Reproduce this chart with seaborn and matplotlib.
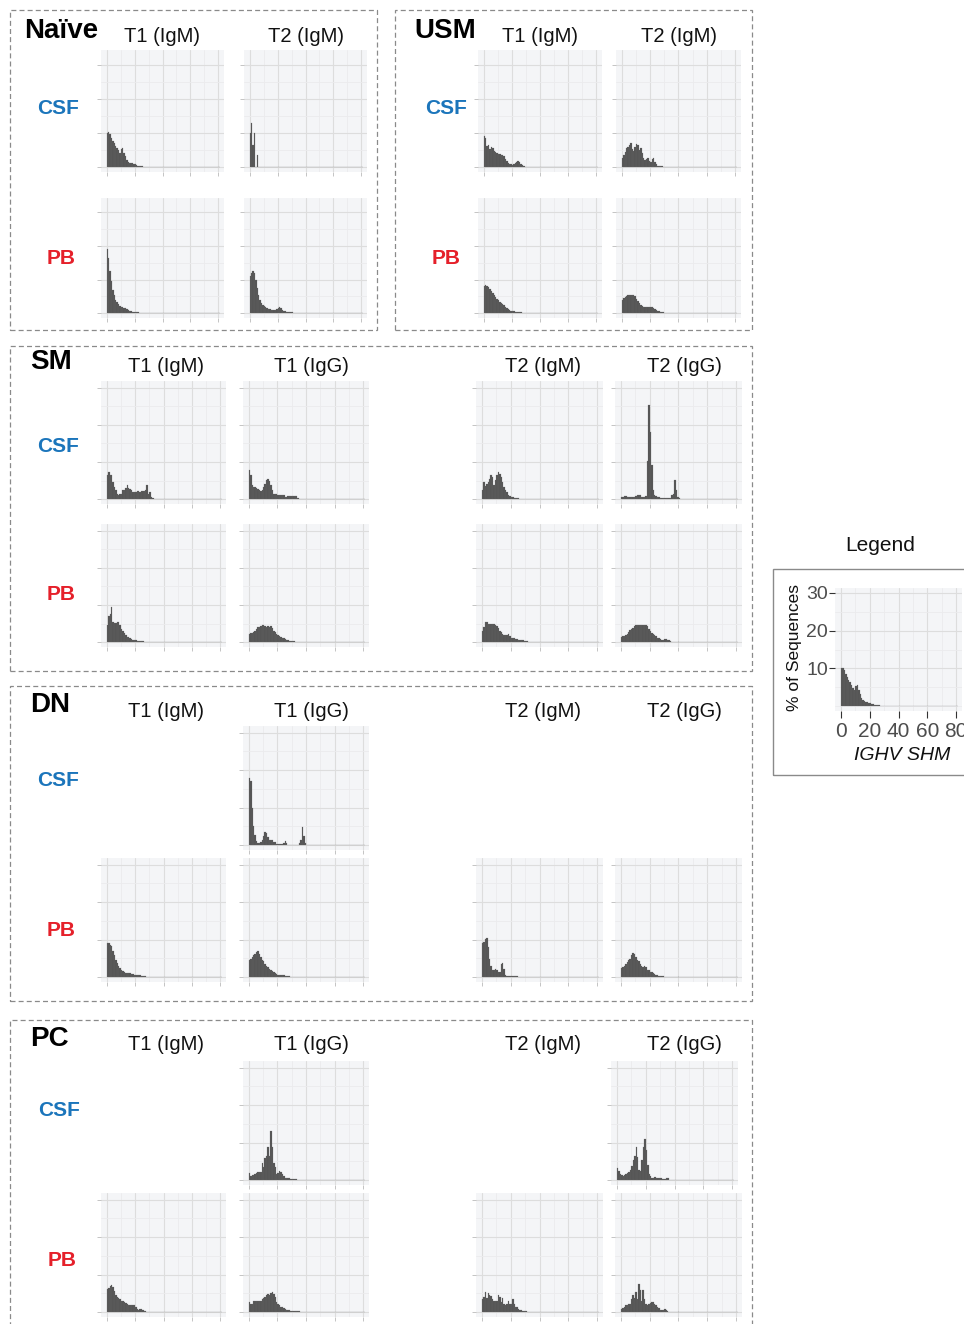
import numpy as np
import pandas as pd
import matplotlib
matplotlib.use("Agg")
import matplotlib.pyplot as plt
import seaborn as sns
from matplotlib.patches import Rectangle
from matplotlib.ticker import MultipleLocator, FixedLocator

sns.set_theme(style="whitegrid")
plt.rcParams['font.family'] = ['Liberation Sans', 'DejaVu Sans']

# ---------------- data: % of sequences per IGHV SHM bin (bin k = [k, k+1)) ----------------
naive_csf_t1 = [10.1, 10.2, 9.6, 8.6, 7.8, 7.0, 6.3, 5.6, 4.9, 4.3, 5.2, 5.5, 4.3, 3.2, 2.2, 1.5, 1.3, 1.2,
                1.1, 0.9, 0.8, 0.6, 0.5, 0.4, 0.3, 0.3, 0.2, 0.15, 0.1, 0.1, 0.1, 0.05, 0.05, 0.05, 0.05,
                0.05, 0.05, 0.05, 0.05, 0.05]
naive_csf_t2 = [10.0, 13.0, 6.5, 10.0, 0.0, 3.5]
naive_pb_t1 = [19.0, 16.5, 12.5, 9.5, 7.0, 5.3, 4.1, 3.3, 2.7, 2.2, 1.9, 1.8, 1.7, 1.6, 1.3, 1.0, 0.8, 0.6,
               0.5, 0.4, 0.35, 0.3, 0.25, 0.2, 0.2, 0.15, 0.15, 0.1, 0.1, 0.1, 0.1, 0.08, 0.08, 0.06, 0.06,
               0.05, 0.05, 0.05, 0.04, 0.04, 0.03]
naive_pb_t2 = [11.0, 12.0, 12.5, 12.0, 10.0, 7.5, 5.5, 4.0, 3.2, 2.6, 2.2, 1.9, 1.6, 1.4, 1.2, 1.1, 1.0, 0.9,
               1.0, 1.3, 1.7, 1.8, 1.5, 1.1, 0.8, 0.6, 0.5, 0.4, 0.3, 0.3, 0.25, 0.2, 0.15, 0.1, 0.1, 0.08,
               0.06, 0.05, 0.05, 0.05, 0.05, 0.04, 0.04, 0.04, 0.03, 0.03, 0.03, 0.03, 0.03, 0.03, 0.03,
               0.03, 0.03, 0.03, 0.03, 0.03, 0.03, 0.03, 0.03, 0.03, 0.03, 0.03, 0.03, 0.03, 0.03, 0.03,
               0.03, 0.03, 0.03, 0.03, 0.03, 0.03, 0.03, 0.03, 0.03, 0.03, 0.03, 0.03, 0.03]
usm_csf_t1 = [9.0, 8.6, 6.3, 6.6, 5.4, 5.8, 5.5, 4.7, 4.5, 4.2, 4.0, 3.8, 3.6, 3.5, 3.3, 2.3, 1.7, 1.3, 1.0,
              0.8, 0.7, 0.9, 1.3, 1.6, 1.7, 1.4, 1.0, 0.6, 0.3, 0.2, 0.2, 0.15, 0.1, 0.1, 0.1, 0.08, 0.08,
              0.06, 0.06, 0.05, 0.05, 0.05, 0.05, 0.05, 0.05, 0.04, 0.04, 0.04, 0.04, 0.03, 0.03, 0.03,
              0.03, 0.03, 0.03, 0.03, 0.03, 0.03, 0.03, 0.03]
usm_csf_t2 = [2.7, 3.5, 4.5, 5.5, 5.8, 6.5, 7.0, 5.2, 4.8, 5.8, 6.8, 6.5, 5.0, 5.5, 4.2, 2.8, 2.2, 2.5, 2.8,
              1.8, 1.6, 2.4, 2.7, 1.6, 0.8, 0.5, 0.4, 0.3, 0.25, 0.2, 0.2, 0.15, 0.1, 0.1, 0.08, 0.06, 0.05,
              0.05, 0.05, 0.05]
usm_pb_t1 = [8.2, 8.4, 8.1, 7.7, 7.2, 6.7, 6.1, 5.5, 4.9, 4.4, 3.9, 3.4, 3.0, 2.7, 2.4, 2.0, 1.6, 1.3, 1.0,
             0.8, 0.7, 0.55, 0.45, 0.4, 0.35, 0.3, 0.25, 0.2, 0.18, 0.15, 0.12, 0.1, 0.1, 0.08, 0.08, 0.06,
             0.06, 0.05, 0.05, 0.05, 0.05, 0.04, 0.04, 0.04, 0.04, 0.03, 0.03, 0.03, 0.03, 0.03, 0.03,
             0.03, 0.03, 0.02, 0.02, 0.02, 0.02, 0.02, 0.02, 0.02]
usm_pb_t2 = [3.9, 4.5, 4.9, 5.1, 5.3, 5.4, 5.5, 5.5, 5.4, 5.0, 4.4, 3.7, 3.0, 2.5, 2.2, 2.0, 1.9, 1.9, 2.0,
             2.0, 1.9, 1.8, 1.6, 1.3, 1.0, 0.8, 0.6, 0.4, 0.3, 0.25, 0.2, 0.15, 0.1, 0.1, 0.08, 0.06, 0.05,
             0.05, 0.05, 0.05]
sm_csf_t1_igm = [6.4, 7.3, 6.6, 6.4, 4.6, 3.3, 2.4, 1.3, 1.2, 1.3, 1.5, 2.4, 2.5, 3.0, 3.7, 2.9, 2.8, 2.4,
                 2.0, 2.0, 1.9, 2.1, 2.1, 2.0, 2.1, 2.1, 2.2, 2.4, 3.7, 1.5, 2.0, 0.6, 0.2, 0.1, 0.1, 0.05,
                 0.05, 0.05]
sm_csf_t1_igg = [7.8, 6.4, 3.8, 3.3, 3.3, 3.0, 2.7, 2.4, 2.1, 2.4, 3.3, 4.2, 5.1, 5.4, 4.8, 3.8, 2.4, 1.5,
                 1.5, 1.4, 1.25, 1.2, 1.2, 1.1, 1.1, 0.6, 0.6, 0.9, 0.9, 0.9, 0.9, 0.9, 0.9, 0.8, 0.35, 0.1,
                 0.1, 0.05, 0.05, 0.05]
sm_pb_t1_igm = [4.5, 7.0, 7.6, 9.4, 5.4, 5.2, 5.2, 5.4, 5.4, 4.5, 3.6, 3.1, 2.4, 1.8, 1.4, 1.3, 1.1, 0.9,
                0.7, 0.5, 0.45, 0.35, 0.3, 0.3, 0.25, 0.2, 0.15, 0.12, 0.1, 0.1, 0.08, 0.06, 0.05, 0.05,
                0.05, 0.04, 0.04, 0.04, 0.03, 0.03, 0.03, 0.03, 0.03, 0.03, 0.02]
sm_pb_t1_igg = [2.2, 2.5, 2.5, 2.7, 3.1, 3.6, 4.0, 4.0, 4.3, 4.5, 4.5, 4.3, 4.0, 4.3, 4.0, 4.3, 3.8, 3.1,
                2.7, 2.2, 2.0, 1.6, 1.3, 1.1, 1.1, 0.9, 0.6, 0.6, 0.35, 0.3, 0.3, 0.2, 0.15, 0.1, 0.1,
                0.08, 0.06, 0.05, 0.05, 0.05, 0.04, 0.04, 0.03, 0.03, 0.03]
sm_csf_t2_igm = [2.4, 4.6, 3.6, 4.2, 4.6, 5.4, 6.4, 6.0, 3.8, 5.1, 6.4, 7.3, 6.9, 6.0, 4.6, 3.3, 2.4, 1.8,
                 1.25, 0.9, 0.6, 0.45, 0.3, 0.2, 0.2, 0.2, 0.1, 0.1, 0.1, 0.08, 0.06, 0.05, 0.05, 0.05,
                 0.04, 0.04]
sm_csf_t2_igg = [0.6, 0.6, 0.9, 0.9, 0.45, 0.45, 0.45, 0.45, 0.5, 0.5, 0.9, 1.25, 1.25, 1.1, 0.6, 0.6, 0.6,
                 0.9, 10.4, 25.4, 18.0, 9.1, 2.4, 1.25, 0.9, 0.6, 0.6, 0.35, 0.35, 0.2, 0.2, 0.2, 0.2, 0.2,
                 0.3, 1.25, 1.5, 5.1, 2.4, 0.6, 0.3, 0.1, 0.1, 0.05, 0.05, 0.05, 0.05]
sm_pb_t2_igm = [3.1, 4.0, 5.4, 5.4, 4.9, 4.9, 4.9, 4.9, 4.9, 4.6, 4.3, 3.8, 3.1, 2.7, 2.2, 1.8, 1.8, 1.8,
                2.2, 1.6, 1.1, 1.1, 1.1, 0.9, 0.9, 0.6, 0.6, 0.45, 0.45, 0.2, 0.2, 0.2, 0.1, 0.1, 0.08,
                0.06, 0.05, 0.05, 0.05, 0.04]
sm_pb_t2_igg = [1.4, 1.6, 1.6, 1.8, 2.3, 2.7, 3.2, 3.6, 3.9, 4.3, 4.5, 4.5, 4.5, 4.5, 4.5, 4.5, 4.5, 4.5,
                4.3, 3.6, 3.0, 2.5, 2.1, 1.8, 1.6, 1.2, 1.2, 0.9, 0.7, 0.7, 0.9, 0.9, 0.65, 0.45, 0.2, 0.1,
                0.1, 0.08, 0.06, 0.05, 0.05, 0.05, 0.05, 0.04, 0.04, 0.04, 0.03, 0.03, 0.03, 0.03]
dn_csf_t1_igg = [18.0, 17.1, 10.0, 5.1, 2.7, 1.1, 0.6, 0.6, 0.9, 1.5, 2.4, 3.6, 3.3, 2.1, 1.5, 1.25, 1.25,
                 0.9, 0.9, 0.35, 0.35, 0.2, 0.2, 0.2, 0.6, 1.1, 0.5, 0.15, 0.15, 0.15, 0.15, 0.15, 0.15,
                 0.15, 0.15, 0.6, 1.5, 4.8, 2.4, 0.6, 0.1, 0.1, 0.05, 0.05, 0.05]
dn_pb_t1_igm = [9.2, 9.2, 8.7, 8.3, 7.1, 6.0, 4.7, 3.8, 3.1, 2.4, 2.0, 1.6, 1.3, 1.1, 1.1, 1.1, 1.1, 0.9,
                0.9, 0.6, 0.6, 0.45, 0.45, 0.45, 0.25, 0.25, 0.25, 0.25, 0.15, 0.1, 0.1, 0.08, 0.08, 0.06,
                0.06, 0.05, 0.05, 0.05, 0.04, 0.04, 0.04, 0.03, 0.03, 0.03, 0.03]
dn_pb_t1_igg = [4.7, 4.9, 5.4, 5.8, 6.25, 6.7, 6.9, 6.25, 5.4, 4.7, 4.2, 3.6, 3.1, 2.7, 2.2, 2.0, 1.7, 1.3,
                1.15, 0.9, 0.7, 0.6, 0.45, 0.45, 0.45, 0.25, 0.25, 0.25, 0.25, 0.15, 0.12, 0.1, 0.1, 0.08,
                0.08, 0.06, 0.06, 0.05, 0.05, 0.05, 0.04, 0.04, 0.04]
dn_pb_t2_igm = [9.2, 9.4, 10.3, 10.4, 8.0, 4.9, 3.1, 2.0, 1.8, 2.2, 1.8, 1.3, 1.5, 3.6, 3.8, 2.2, 0.6, 0.3,
                0.3, 0.3, 0.3, 0.25, 0.25, 0.25, 0.25, 0.1, 0.1, 0.08, 0.06, 0.05, 0.05, 0.05]
dn_pb_t2_igg = [2.4, 2.7, 3.1, 3.6, 4.0, 4.5, 4.9, 5.8, 6.4, 6.25, 5.4, 4.7, 4.2, 3.6, 3.1, 2.7, 2.9, 2.7,
                2.0, 1.8, 1.5, 1.3, 1.1, 0.9, 0.6, 0.45, 0.3, 0.3, 0.3, 0.3, 0.15, 0.15, 0.15, 0.15, 0.15,
                0.15, 0.1, 0.08, 0.06, 0.05, 0.05, 0.05]
pc_csf_t1_igg = [1.9, 1.2, 1.3, 1.4, 1.6, 1.9, 2.1, 2.2, 2.1, 4.6, 3.4, 5.8, 6.5, 8.8, 6.5, 13.0, 8.8, 4.7,
                 3.4, 1.6, 1.9, 2.4, 2.2, 1.6, 1.0, 0.6, 0.45, 0.45, 0.45, 0.25, 0.25, 0.25, 0.25, 0.25,
                 0.15, 0.15, 0.15, 0.1, 0.1, 0.1]
pc_csf_t2_igg = [3.2, 2.4, 1.75, 1.5, 1.2, 1.5, 1.75, 1.9, 2.1, 2.6, 3.7, 5.4, 6.5, 8.9, 6.3, 2.8, 2.4, 5.4,
                 8.9, 10.9, 8.1, 4.1, 1.75, 1.05, 0.6, 0.6, 0.9, 0.6, 0.6, 0.6, 0.6, 0.35, 0.35, 0.35,
                 0.45, 0.45, 0.1, 0.1, 0.1, 0.05]
pc_pb_t1_igm = [6.25, 6.5, 7.1, 7.3, 6.7, 5.6, 4.5, 4.0, 3.8, 3.6, 3.1, 2.9, 2.7, 2.4, 2.05, 1.8, 1.8, 1.8,
                1.8, 1.8, 1.3, 0.9, 0.6, 0.8, 0.8, 0.45, 0.25, 0.25, 0.1, 0.1, 0.08, 0.06, 0.05, 0.05,
                0.05, 0.04, 0.04, 0.04, 0.03, 0.03]
pc_pb_t1_igg = [2.7, 2.2, 2.2, 3.1, 3.1, 2.9, 2.9, 3.1, 3.1, 3.6, 3.8, 4.0, 4.7, 4.9, 4.7, 5.1, 5.4, 4.9,
                4.0, 2.7, 2.05, 1.8, 1.5, 1.3, 1.15, 0.9, 0.7, 0.6, 0.45, 0.35, 0.35, 0.35, 0.25, 0.25,
                0.25, 0.25, 0.15, 0.1, 0.1, 0.08, 0.06, 0.05, 0.05, 0.05]
pc_pb_t2_igm = [3.6, 4.0, 5.5, 3.8, 5.1, 4.7, 4.2, 3.6, 2.9, 3.1, 2.9, 4.5, 4.0, 2.7, 3.8, 2.2, 1.8, 2.2,
                3.1, 2.05, 2.2, 3.6, 2.05, 1.3, 1.3, 0.9, 0.6, 0.45, 0.25, 0.25, 0.25, 0.1, 0.1, 0.08,
                0.06, 0.05, 0.05, 0.05]
pc_pb_t2_igg = [0.9, 1.15, 1.3, 1.8, 1.8, 2.2, 2.2, 3.6, 4.5, 3.8, 5.4, 3.6, 7.6, 5.8, 3.1, 5.8, 3.6, 2.2,
                1.8, 2.2, 2.4, 2.7, 2.7, 2.2, 1.8, 1.3, 1.15, 0.6, 0.45, 0.6, 0.8, 0.7, 0.25, 0.15, 0.15,
                0.15, 0.1, 0.08, 0.06, 0.05]
legend_example = naive_csf_t1

group_names = ["Naïve", "USM", "SM", "DN", "PC"]
tissues = ["CSF", "PB"]
tissue_colors = {"CSF": "#1b75bb", "PB": "#e5202a"}
col_titles_2 = ["T1 (IgM)", "T2 (IgM)"]
col_titles_4 = ["T1 (IgM)", "T1 (IgG)", "T2 (IgM)", "T2 (IgG)"]
legend_yticks = [10, 20, 30]
legend_xticks = [0, 20, 40, 60, 80]

# ---------------- figure / layout ----------------
W, H = 964, 1324
fig = plt.figure(figsize=(W / 100, H / 100), dpi=100)
fig.patch.set_facecolor("white")

PANEL_BG = "#f4f5f7"
MAJOR = "#dddddd"
MINOR = "#ebebed"
BAR = "#545454"
YL_A = (-1.4, 34.3)
YL_B = (-1.3, 31.8)


def add_ax(left, top, w, h):
    return fig.add_axes([left / W, 1 - (top + h) / H, w / W, h / H])


def style(ax, ylim):
    ax.set_facecolor(PANEL_BG)
    ax.set_xlim(-4, 84)
    ax.set_ylim(*ylim)
    ax.xaxis.set_major_locator(MultipleLocator(20))
    ax.xaxis.set_minor_locator(MultipleLocator(10))
    ax.yaxis.set_major_locator(MultipleLocator(10))
    ax.yaxis.set_minor_locator(MultipleLocator(5))
    ax.grid(which="major", color=MAJOR, lw=0.8)
    ax.grid(which="minor", color=MINOR, lw=0.6)
    ax.set_axisbelow(True)
    for s in ax.spines.values():
        s.set_visible(False)
    ax.tick_params(which="major", length=3, width=0.7, color="#c4c4c4",
                   labelleft=False, labelbottom=False, left=True, bottom=True)
    ax.tick_params(which="minor", length=0)
    ax.set_xlabel("")
    ax.set_ylabel("")


def hist(ax, values):
    vals = np.asarray(values, dtype=float)
    df = pd.DataFrame({"shm": np.arange(len(vals)), "pct": vals})
    sns.histplot(data=df, x="shm", weights="pct", binwidth=1, binrange=(0, 81), ax=ax, color=BAR,
                 alpha=1, linewidth=0.15, edgecolor="#6a6a6a")


def text(x, y, s, **kw):
    fig.text(x / W, 1 - y / H, s, **kw)


def dashed_box(x0, y0, x1, y1):
    fig.add_artist(Rectangle((x0 / W, 1 - y1 / H), (x1 - x0) / W, (y1 - y0) / H,
                             transform=fig.transFigure, fill=False,
                             ls=(0, (4, 2.5)), ec="#8a8a8a", lw=0.9))


# panels: (data, left, top, width, height, ylim)
panels = [
    (naive_csf_t1, 101, 50, 123, 122, YL_A), (naive_csf_t2, 244, 50, 123, 122, YL_A),
    (naive_pb_t1, 101, 198, 123, 120, YL_A), (naive_pb_t2, 244, 198, 123, 120, YL_A),
    (usm_csf_t1, 478, 50, 124, 122, YL_A), (usm_csf_t2, 616, 50, 125, 122, YL_A),
    (usm_pb_t1, 478, 198, 124, 120, YL_A), (usm_pb_t2, 616, 198, 125, 120, YL_A),
    (sm_csf_t1_igm, 101, 381, 125, 123, YL_B), (sm_csf_t1_igg, 243, 381, 126, 123, YL_B),
    (sm_csf_t2_igm, 476, 381, 127, 123, YL_B), (sm_csf_t2_igg, 615, 381, 127, 123, YL_B),
    (sm_pb_t1_igm, 101, 524, 125, 123, YL_B), (sm_pb_t1_igg, 243, 524, 126, 123, YL_B),
    (sm_pb_t2_igm, 476, 524, 127, 123, YL_B), (sm_pb_t2_igg, 615, 524, 127, 123, YL_B),
    (dn_csf_t1_igg, 243, 726, 126, 124, YL_B),
    (dn_pb_t1_igm, 101, 858, 125, 124, YL_B), (dn_pb_t1_igg, 243, 858, 126, 124, YL_B),
    (dn_pb_t2_igm, 476, 858, 127, 124, YL_B), (dn_pb_t2_igg, 615, 858, 127, 124, YL_B),
    (pc_csf_t1_igg, 243, 1061, 126, 124, YL_B), (pc_csf_t2_igg, 611, 1061, 127, 124, YL_B),
    (pc_pb_t1_igm, 101, 1193, 125, 124, YL_B), (pc_pb_t1_igg, 243, 1193, 126, 124, YL_B),
    (pc_pb_t2_igm, 476, 1193, 127, 124, YL_B), (pc_pb_t2_igg, 615, 1193, 127, 124, YL_B),
]
for data, l, t, w, h, yl in panels:
    ax = add_ax(l, t, w, h)
    hist(ax, data)
    style(ax, yl)

# group boxes
dashed_box(10, 10, 377, 330)
dashed_box(395, 10, 752, 330)
dashed_box(10, 346, 752, 671)
dashed_box(10, 686, 752, 1001)
dashed_box(10, 1020, 752, 1340)

# group titles
title_kw = dict(fontsize=20, fontweight="bold", ha="left", va="center", color="black")
for name, (x, y) in zip(group_names, [(24, 31), (414, 31), (30, 362), (30, 705), (30, 1039)]):
    text(x, y, name, **title_kw)

# column titles
col_kw = dict(fontsize=14.5, ha="center", va="center", color="#111111")
for s, x in zip(col_titles_2, [162, 306]):
    text(x, 37, s, **col_kw)
for s, x in zip(col_titles_2, [540, 679]):
    text(x, 37, s, **col_kw)
for y in [367, 711, 1044]:
    for s, x in zip(col_titles_4, [166, 311, 543, 684]):
        text(x, y, s, **col_kw)

# row labels
row_kw = dict(fontsize=15, fontweight="bold", ha="center", va="center")
row_pos = [((58, 109), (61, 258)), ((446, 109), (446, 258)), ((58, 446), (61, 595)),
           ((58, 780), (61, 930)), ((59, 1111), (62, 1260))]
for (csf_xy, pb_xy) in row_pos:
    text(*csf_xy, tissues[0], color=tissue_colors["CSF"], **row_kw)
    text(*pb_xy, tissues[1], color=tissue_colors["PB"], **row_kw)

# ---------------- legend ----------------
text(880, 546, "Legend", fontsize=15, ha="center", va="center", color="#111111")
fig.add_artist(Rectangle((773 / W, 1 - 775 / H), 300 / W, (775 - 569) / H,
                         transform=fig.transFigure, fill=False, ec="#8a8a8a", lw=1.0))
lax = add_ax(835, 588, 127, 123)
hist(lax, legend_example)
style(lax, (-1.3, 31.3))
lax.yaxis.set_major_locator(FixedLocator(legend_yticks))
lax.yaxis.set_minor_locator(FixedLocator([0, 5, 15, 25]))
lax.set_yticks(legend_yticks, [str(v) for v in legend_yticks])
lax.set_xticks(legend_xticks, [str(v) for v in legend_xticks])
lax.tick_params(axis="y", which="major", length=4, width=0.8, color="#333333", labelleft=True,
                labelsize=14, labelcolor="#4d4d4d", pad=1)
lax.tick_params(axis="x", which="major", length=5, width=0.8, color="#333333", labelbottom=True,
                labelsize=15, labelcolor="#4d4d4d", pad=3)
text(794, 648, "% of Sequences", fontsize=12.5, rotation=90, ha="center", va="center", color="#111111")
text(902, 756, "IGHV SHM", fontsize=14, style="italic", ha="center", va="center", color="#111111")

fig.savefig("out.png", dpi=100, facecolor="white")
